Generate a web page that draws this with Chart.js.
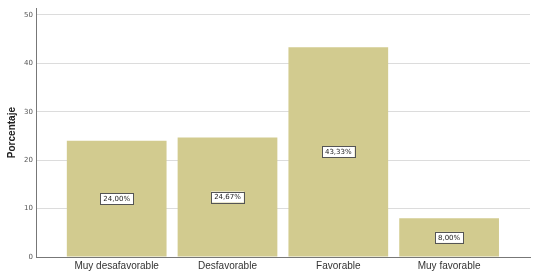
<!DOCTYPE html>
<html>
<head>
<meta charset="utf-8">
<script src="https://cdn.jsdelivr.net/npm/chart.js@4"></script>
<style>
  html, body { margin: 0; padding: 0; background: #fff; }
  #wrap { width: 537px; height: 277px; }
</style>
</head>
<body>
<div id="wrap"><canvas id="porcentajeChart" width="537" height="277"></canvas></div>
<script>
// data
const categories = ['Muy desafavorable', 'Desfavorable', 'Favorable', 'Muy favorable'];
const percentages = [24.0, 24.67, 43.33, 8.0];
const yTicks = [0, 10, 20, 30, 40, 50];
const axisTitle = 'Porcentaje';

const barColor = '#d2cb8f';

// boxed value labels in the middle of each bar
const boxLabels = {
  id: 'boxLabels',
  afterDatasetsDraw(chart) {
    const ctx = chart.ctx;
    const meta = chart.getDatasetMeta(0);
    ctx.save();
    ctx.font = '7px "DejaVu Sans", sans-serif';
    ctx.textAlign = 'center';
    ctx.textBaseline = 'middle';
    meta.data.forEach((bar, i) => {
      const text = percentages[i].toFixed(2).replace('.', ',') + '%';
      const w = ctx.measureText(text).width + 6;
      const h = 11;
      const cy = (bar.y + bar.base) / 2;
      ctx.fillStyle = '#ffffff';
      ctx.fillRect(bar.x - w / 2, cy - h / 2, w, h);
      ctx.strokeStyle = '#555555';
      ctx.lineWidth = 1;
      ctx.strokeRect(Math.round(bar.x - w / 2) + 0.5, Math.round(cy - h / 2) + 0.5, Math.round(w), h);
      ctx.fillStyle = '#222222';
      ctx.fillText(text, bar.x, cy + 0.5);
    });
    ctx.restore();
  }
};

new Chart(document.getElementById('porcentajeChart').getContext('2d'), {
  type: 'bar',
  data: {
    datasets: [
      {
        label: axisTitle,
        data: percentages.map((v, i) => ({ x: i, y: v })),
        backgroundColor: barColor,
        borderWidth: 0,
        barPercentage: 0.9,
        categoryPercentage: 1.0,
      },
    ],
  },
  options: {
    responsive: false,
    animation: false,
    layout: { padding: { left: 6, right: 7, top: 0, bottom: 2 } },
    plugins: {
      legend: { display: false },
      tooltip: { enabled: false },
    },
    scales: {
      x: {
        type: 'linear',
        offset: false,
        min: -0.72,
        max: 3.73,
        afterBuildTicks: (axis) => {
          axis.ticks = categories.map((c, i) => ({ value: i }));
        },
        ticks: {
          callback: (v) => categories[v],
          color: '#333333',
          font: { size: 10, family: '"Liberation Sans", Arial, sans-serif' },
          maxRotation: 0,
          padding: 3,
        },
        grid: { display: false, drawTicks: false },
        border: { color: '#777777', width: 1 },
      },
      y: {
        min: 0,
        max: 51.4,
        afterBuildTicks: (axis) => {
          axis.ticks = yTicks.map((v) => ({ value: v }));
        },
        ticks: {
          color: '#555555',
          font: { size: 7, family: '"DejaVu Sans", sans-serif' },
          padding: 4,
        },
        grid: { color: '#dcdcdc', lineWidth: 1, drawTicks: false },
        border: { color: '#777777', width: 1 },
        title: {
          display: true,
          text: axisTitle,
          color: '#222222',
          font: { size: 10, weight: 'bold', family: '"Liberation Sans", Arial, sans-serif' },
          padding: { top: 0, bottom: 2 },
        },
      },
    },
  },
  plugins: [boxLabels],
});
</script>
</body>
</html>
